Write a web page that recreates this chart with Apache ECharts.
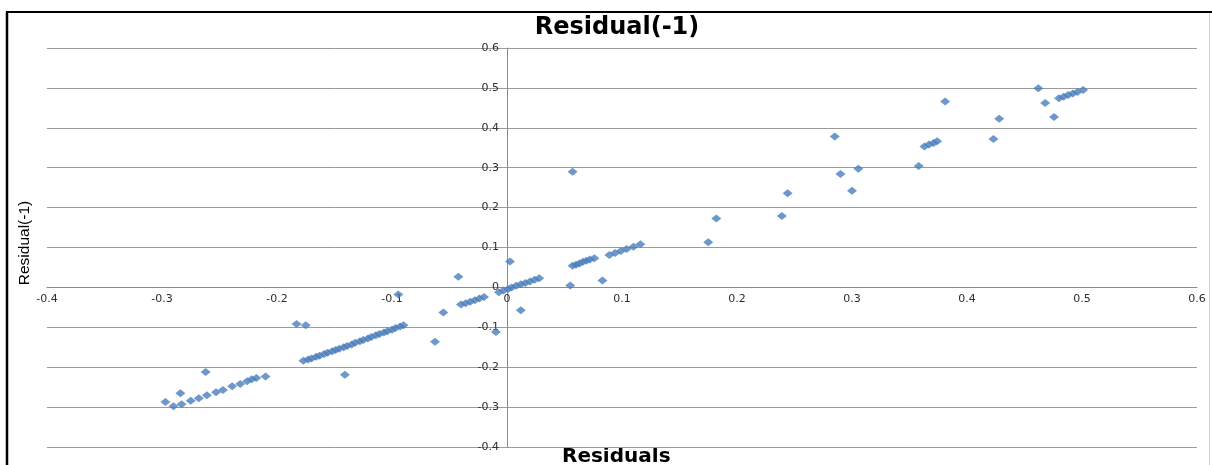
<!DOCTYPE html>
<html>
<head>
<meta charset="utf-8">
<title>Residual(-1)</title>
<script src="https://cdn.jsdelivr.net/npm/echarts@6/dist/echarts.min.js"></script>
<style>
  html, body { margin: 0; padding: 0; background: #fff; }
  #eChart { width: 1212px; height: 465px; }
</style>
</head>
<body>
<div id="eChart"></div>
<script>
// residuals (x) and lagged residuals (y)
const residuals = [
  -0.297, -0.290, -0.284, -0.283, -0.275, -0.268, -0.262, -0.261, -0.253, -0.247,
  -0.239, -0.232, -0.226, -0.222, -0.218, -0.210,
  -0.183, -0.175, -0.141,
  -0.177, -0.173, -0.170, -0.166, -0.163, -0.159, -0.156, -0.152, -0.149, -0.146,
  -0.142, -0.139, -0.135, -0.132, -0.128, -0.125, -0.121, -0.118, -0.114, -0.111,
  -0.107, -0.104, -0.100, -0.097, -0.093, -0.090,
  -0.0945, -0.0626, -0.0554, -0.0423,
  -0.040, -0.036, -0.032, -0.028, -0.024, -0.020,
  -0.0096,
  -0.007, -0.003, 0.001, 0.004, 0.008, 0.012, 0.016, 0.020, 0.024, 0.028,
  0.0026, 0.012, 0.055,
  0.057, 0.060, 0.063, 0.066, 0.069, 0.072, 0.076,
  0.083,
  0.089, 0.094, 0.099, 0.104, 0.110, 0.116,
  0.057,
  0.175, 0.182, 0.239, 0.244, 0.285, 0.290, 0.300, 0.3055, 0.358,
  0.363, 0.367, 0.371, 0.374,
  0.381, 0.423, 0.428, 0.462, 0.468, 0.4757,
  0.480, 0.484, 0.488, 0.492, 0.496, 0.501
];
const laggedResiduals = [
  -0.287, -0.298, -0.265, -0.293, -0.284, -0.278, -0.212, -0.270, -0.263, -0.257,
  -0.248, -0.242, -0.235, -0.230, -0.227, -0.223,
  -0.092, -0.095, -0.219,
  -0.184, -0.181, -0.178, -0.174, -0.171, -0.167, -0.164, -0.160, -0.157, -0.154,
  -0.150, -0.147, -0.143, -0.139, -0.135, -0.132, -0.128, -0.124, -0.120, -0.117,
  -0.113, -0.110, -0.106, -0.102, -0.098, -0.095,
  -0.0175, -0.136, -0.063, 0.027,
  -0.043, -0.040, -0.036, -0.032, -0.028, -0.024,
  -0.112,
  -0.012, -0.008, -0.004, 0.000, 0.004, 0.008, 0.011, 0.015, 0.019, 0.023,
  0.065, -0.057, 0.005,
  0.054, 0.057, 0.060, 0.064, 0.067, 0.070, 0.073,
  0.0175,
  0.081, 0.086, 0.091, 0.096, 0.102, 0.108,
  0.290,
  0.113, 0.1725, 0.179, 0.236, 0.378, 0.284, 0.2425, 0.2975, 0.304,
  0.353, 0.358, 0.362, 0.366,
  0.466, 0.372, 0.4225, 0.499, 0.462, 0.427,
  0.474, 0.478, 0.482, 0.486, 0.490, 0.495
];

const chartTitle = "Residual(-1)";
const xName = "Residuals";
const yName = "Residual(-1)";

const points = residuals.map((x, i) => [x, laggedResiduals[i]]);

const tickFmt = (v) => String(+v.toFixed(1));

const myChart = echarts.init(document.getElementById("eChart"), null, {
  renderer: "canvas",
});

// axes cross at zero: shift them into the grid with a negative offset
const gridBox = { left: 47, right: 15, top: 48, bottom: 18 };
const plotW = 1212 - gridBox.left - gridBox.right;
const plotH = 465 - gridBox.top - gridBox.bottom;
const yAxisShift = -plotW * 0.4;   // x = 0 sits 0.4 of the way across
const xAxisShift = -plotH * 0.4;   // y = 0 sits 0.4 of the way up

myChart.setOption({
  animation: false,
  backgroundColor: "#fff",
  title: {
    text: chartTitle,
    left: 612,
    top: 11,
    textAlign: "center",
    textStyle: {
      fontFamily: "DejaVu Sans",
      fontWeight: "bold",
      fontSize: 24,
      color: "#000",
    },
  },
  grid: gridBox,
  xAxis: {
    type: "value",
    min: -0.4,
    max: 0.6,
    interval: 0.1,
    offset: xAxisShift,
    axisLine: { onZero: false, lineStyle: { color: "#8a8a8a", width: 1 } },
    axisTick: { show: false },
    splitLine: { show: false },
    axisLabel: {
      formatter: tickFmt,
      margin: 6,
      fontFamily: "DejaVu Sans",
      fontSize: 11,
      color: "#2e2e2e",
    },
  },
  yAxis: {
    type: "value",
    min: -0.4,
    max: 0.6,
    interval: 0.1,
    offset: yAxisShift,
    axisLine: { onZero: false, lineStyle: { color: "#8a8a8a", width: 1 } },
    axisTick: { show: false },
    splitLine: { show: true, lineStyle: { color: "#9a9a9a", width: 1 } },
    axisLabel: {
      formatter: tickFmt,
      margin: 8,
      fontFamily: "DejaVu Sans",
      fontSize: 11,
      color: "#2e2e2e",
    },
  },
  graphic: [
    {
      type: "text",
      left: 562,
      top: 447,
      style: {
        text: xName,
        font: "bold 20px 'DejaVu Sans'",
        fill: "#000",
      },
    },
    {
      type: "text",
      x: 25,
      y: 243,
      rotation: Math.PI / 2,
      style: {
        text: yName,
        align: "center",
        verticalAlign: "middle",
        font: "15.5px 'Liberation Sans Narrow', 'Liberation Sans', sans-serif",
        fill: "#000",
      },
    },
    {
      type: "line",
      shape: { x1: 7, y1: 12, x2: 7, y2: 465 },
      style: { stroke: "#000", lineWidth: 2.5 },
    },
    {
      type: "line",
      shape: { x1: 6, y1: 12, x2: 1212, y2: 12 },
      style: { stroke: "#000", lineWidth: 2 },
    },
    {
      type: "line",
      shape: { x1: 1209.5, y1: 13, x2: 1209.5, y2: 465 },
      style: { stroke: "#cfcfcf", lineWidth: 1 },
    },
  ],
  series: [
    {
      name: yName,
      type: "scatter",
      symbol: "diamond",
      symbolSize: [10, 8],
      itemStyle: { color: "#4a7ebb" },
      data: points,
    },
  ],
});
</script>
</body>
</html>
